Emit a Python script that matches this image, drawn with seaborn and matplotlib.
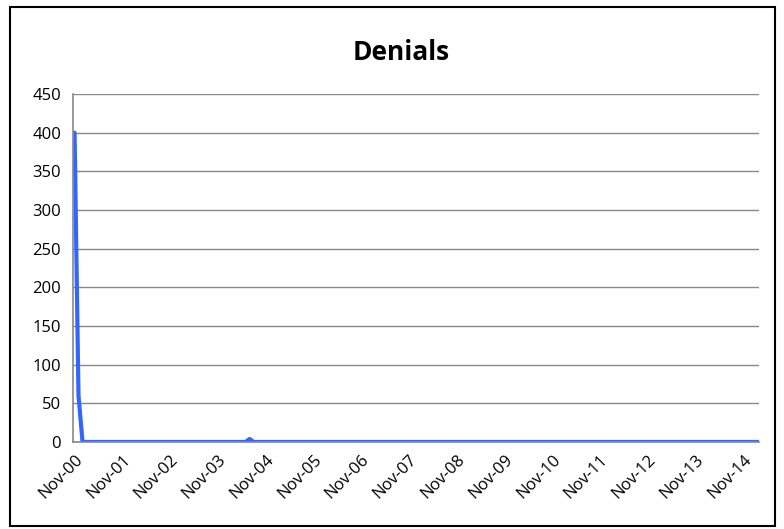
import pandas as pd
import matplotlib.pyplot as plt
import matplotlib.dates as mdates
from matplotlib.patches import Rectangle
import seaborn as sns

# Monthly denials, Nov-2000 .. Mar-2015
months = pd.date_range('2000-11-01', '2015-03-01', freq='MS')
denials = [
    400, 60,                                          # Nov-00, Dec-00
    0, 0, 0, 0, 0, 0, 0, 0, 0, 0, 0, 0,               # 2001
    0, 0, 0, 0, 0, 0, 0, 0, 0, 0, 0, 0,               # 2002
    0, 0, 0, 0, 0, 0, 0, 0, 0, 0, 0, 0,               # 2003
    0, 0, 0, 0, 0, 0, 4, 0, 0, 0, 0, 0,               # 2004
    0, 0, 0, 0, 0, 0, 0, 0, 0, 0, 0, 0,               # 2005
    0, 0, 0, 0, 0, 0, 0, 0, 0, 0, 0, 0,               # 2006
    0, 0, 0, 0, 0, 0, 0, 0, 0, 0, 0, 0,               # 2007
    0, 0, 0, 0, 0, 0, 0, 0, 0, 0, 0, 0,               # 2008
    0, 0, 0, 0, 0, 0, 0, 0, 0, 0, 0, 0,               # 2009
    0, 0, 0, 0, 0, 0, 0, 0, 0, 0, 0, 0,               # 2010
    0, 0, 0, 0, 0, 0, 0, 0, 0, 0, 0, 0,               # 2011
    0, 0, 0, 0, 0, 0, 0, 0, 0, 0, 0, 0,               # 2012
    0, 0, 0, 0, 0, 0, 0, 0, 0, 0, 0, 0,               # 2013
    0, 0, 0, 0, 0, 0, 0, 0, 0, 0, 0, 0,               # 2014
    0, 0, 0,                                          # Jan-15 .. Mar-15
]
y_ticks = [0, 50, 100, 150, 200, 250, 300, 350, 400, 450]

df = pd.DataFrame({'month': months, 'denials': denials})

sns.set_theme(style='white')
plt.rcParams['font.family'] = ['Open Sans', 'DejaVu Sans']

fig = plt.figure(figsize=(7.84, 5.29), dpi=100)
ax = fig.add_axes([0.0931, 0.1645, 0.875, 0.6578])

# outer chart frame
fig.patches.append(Rectangle((0.013, 0.006), 0.976, 0.981, transform=fig.transFigure,
                             fill=False, edgecolor='black', linewidth=1.5))

sns.lineplot(data=df, x='month', y='denials', ax=ax, color='#3366ff', linewidth=3)

ax.set_ylim(0, 450)
ax.set_yticks(y_ticks)
ax.set_xlim(pd.Timestamp('2000-10-20'), pd.Timestamp('2015-03-01'))
ax.xaxis.set_major_locator(mdates.MonthLocator(bymonth=11, bymonthday=1))
ax.xaxis.set_major_formatter(mdates.DateFormatter('Nov-%y'))

ax.grid(axis='y', color='#888888', linewidth=1)
ax.set_axisbelow(True)
for side in ['top', 'right']:
    ax.spines[side].set_visible(False)
for side in ['left', 'bottom']:
    ax.spines[side].set_color('#888888')
    ax.spines[side].set_linewidth(1.2)

ax.tick_params(axis='both', which='major', direction='out', length=5, width=1,
               color='#888888', labelsize=12, labelcolor='black')
ax.tick_params(axis='x', pad=2)
for lbl in ax.get_xticklabels():
    lbl.set_rotation(45)
    lbl.set_ha('right')
    lbl.set_rotation_mode('anchor')

ax.set_xlabel('')
ax.set_ylabel('')
fig.text(0.512, 0.9, 'Denials', ha='center', va='center', fontsize=19,
         fontweight='bold', color='black')

fig.savefig('out.png', dpi=100, facecolor='white')
